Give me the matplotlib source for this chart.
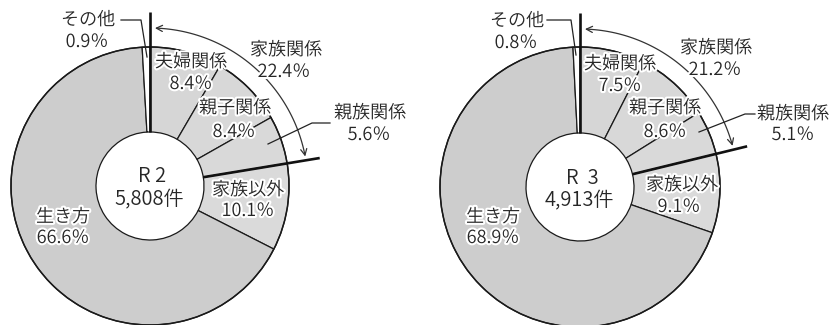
import numpy as np
import matplotlib
matplotlib.use("Agg")
import matplotlib.pyplot as plt
import matplotlib.patheffects as pe
from matplotlib.patches import FancyArrowPatch
from matplotlib.path import Path

plt.rcParams['font.family'] = ['Noto Sans CJK JP', 'DejaVu Sans']

# ---- data ----
categories = ['夫婦関係', '親子関係', '親族関係', '家族以外', '生き方', 'その他']
values_r2 = [8.4, 8.4, 5.6, 10.1, 66.6, 0.9]
values_r3 = [7.5, 8.6, 5.1, 9.1, 68.9, 0.8]
family_r2 = 22.4
family_r3 = 21.2
titles = ['R 2', 'R  3']
totals = ['5,808件', '4,913件']
group_label = '家族関係'

colors = ['#d6d6d6', '#d8d8d8', '#d9d9d9', '#dadada', '#cdcdcd', '#ffffff']

W, H = 832, 325
fig = plt.figure(figsize=(W / 100, H / 100), dpi=100)
ax = fig.add_axes([0, 0, 1, 1])

def Y(y):
    return H - y

halo = [pe.withStroke(linewidth=3.0, foreground='white')]
TXT = '#262626'
FW = 350

def txt(x, y, s, size=13, ha='center'):
    ax.text(x, Y(y), s, fontsize=size, ha=ha, va='center', color=TXT,
            fontweight=FW, path_effects=halo, zorder=6)

def pct(v):
    return f'{v}％'

charts = [
    dict(vals=values_r2, fam=family_r2, cx=150, cy=186, R=139, r=54,
         title=titles[0], total=totals[0],
         lab={'その他': (88, 20, 87, 42), '夫婦関係': (191, 62, 191, 84),
              '親子関係': (235, 108, 234, 132), '親族関係': (370, 113, 369, 135),
              '家族以外': (248, 190, 248, 211), '生き方': (63, 217, 63, 238)},
         fam_lab=(286, 50, 284, 72),
         sonota_lead=[(121, 20), (141, 20), (147, 57)],
         shinzoku_lead=[(330, 123), (312, 123), (268, 144)]),
    dict(vals=values_r3, fam=family_r3, cx=580, cy=187, R=140, r=54,
         title=titles[1], total=totals[1],
         lab={'その他': (517, 21, 516, 43), '夫婦関係': (620, 64, 620, 86),
              '親子関係': (665, 108, 665, 132), '親族関係': (793, 114, 793, 135),
              '家族以外': (682, 185, 679, 207), '生き方': (493, 217, 493, 238)},
         fam_lab=(716, 48, 715, 70),
         sonota_lead=[(547, 20), (571, 20), (576, 55)],
         shinzoku_lead=[(755, 114), (745, 114), (699, 132)]),
]

for c in charts:
    cx, cy, R, r = c['cx'], c['cy'], c['R'], c['r']
    ax.pie(c['vals'], colors=colors, startangle=90, counterclock=False,
           radius=R, center=(cx, Y(cy)),
           wedgeprops=dict(width=R - r, edgecolor='#1a1a1a', linewidth=0.9))
    circ = plt.Circle((cx, Y(cy)), R, fill=False, ec='#1a1a1a', lw=1.1, zorder=3)
    ax.add_patch(circ)

    # thick lines marking the family group boundaries
    for frac, ext in [(0.0, 174), (c['fam'] / 100.0, 172)]:
        ang = np.deg2rad(90 - 360 * frac)
        ax.plot([cx + r * np.cos(ang), cx + ext * np.cos(ang)],
                [Y(cy) + r * np.sin(ang), Y(cy) + ext * np.sin(ang)],
                color='#111111', lw=1.9, zorder=4, solid_capstyle='butt')

    # double-headed arc arrow spanning the family group
    a0 = np.deg2rad(90 - 1.8)
    a1 = np.deg2rad(90 - (360 * c['fam'] / 100.0 - 1.4))
    t = np.linspace(a0, a1, 60)
    ra = 158
    pts = np.column_stack([cx + ra * np.cos(t), Y(cy) + ra * np.sin(t)])
    arr = FancyArrowPatch(path=Path(pts), arrowstyle='<->', mutation_scale=11,
                          color='#333333', lw=0.9, zorder=4)
    ax.add_patch(arr)

    for cat, v in zip(categories, c['vals']):
        x1, y1, x2, y2 = c['lab'][cat]
        txt(x1, y1, cat)
        txt(x2, y2, pct(v))
    fx1, fy1, fx2, fy2 = c['fam_lab']
    txt(fx1, fy1, group_label)
    txt(fx2, fy2, pct(c['fam']))

    ax.text(cx + 2, Y(cy - 9), c['title'], fontsize=14.5, ha='center', va='center',
            color=TXT, fontweight=FW, zorder=6)
    ax.text(cx - 1, Y(cy + 14), c['total'], fontsize=14.5, ha='center', va='center',
            color=TXT, fontweight=FW, zorder=6)

    for lead in (c['sonota_lead'], c['shinzoku_lead']):
        xs = [p[0] for p in lead]
        ys = [Y(p[1]) for p in lead]
        ax.plot(xs, ys, color='#222222', lw=0.9, zorder=5)

ax.set_xlim(0, W)
ax.set_ylim(0, H)
ax.set_aspect('equal')
ax.axis('off')
fig.savefig('out.png', dpi=100, facecolor='white')
